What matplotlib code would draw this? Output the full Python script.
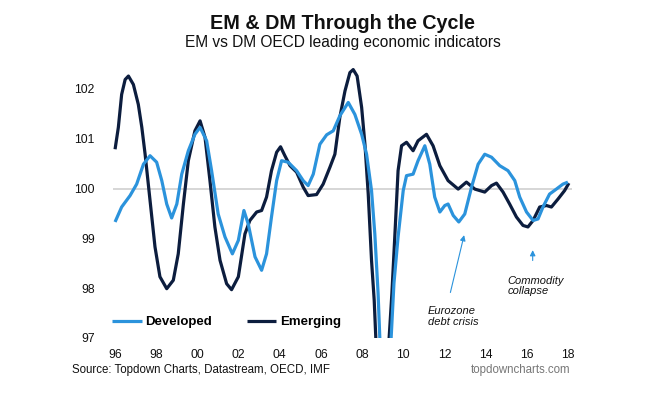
import matplotlib
matplotlib.use("Agg")
import matplotlib.pyplot as plt

# Developed (DM) OECD leading indicator
dm_years = [1996.0, 1996.32, 1996.73, 1997.05, 1997.38, 1997.7, 1998.02, 1998.27, 1998.51, 1998.75,
            1999.0, 1999.24, 1999.56, 1999.88, 2000.13, 2000.45, 2000.69, 2001.01, 2001.34, 2001.7,
            2001.99, 2002.26, 2002.47, 2002.8, 2003.12, 2003.36, 2003.6, 2003.85, 2004.09, 2004.41,
            2004.82, 2005.14, 2005.38, 2005.63, 2005.95, 2006.28, 2006.6, 2006.92, 2007.33, 2007.65,
            2007.98, 2008.22, 2008.46, 2008.62, 2008.78, 2008.9, 2009.1, 2009.35, 2009.55, 2009.75,
            2010.0, 2010.16, 2010.48, 2010.72, 2011.05, 2011.29, 2011.53, 2011.78, 2012.02, 2012.18,
            2012.43, 2012.7, 2012.99, 2013.32, 2013.64, 2013.96, 2014.29, 2014.69, 2015.09, 2015.42,
            2015.66, 2015.99, 2016.31, 2016.55, 2016.79, 2017.11, 2017.44, 2017.76, 2018.0]
dm_values = [99.33, 99.63, 99.86, 100.09, 100.49, 100.66, 100.53, 100.16, 99.69, 99.41,
             99.69, 100.29, 100.76, 101.09, 101.23, 100.96, 100.36, 99.49, 99.03, 98.69,
             98.96, 99.56, 99.29, 98.63, 98.36, 98.69, 99.43, 100.16, 100.56, 100.53,
             100.36, 100.16, 100.06, 100.29, 100.89, 101.08, 101.16, 101.46, 101.73, 101.49,
             101.09, 100.69, 99.96, 99.09, 97.89, 96.6, 95.6, 96.5, 98.1, 99.03,
             99.96, 100.26, 100.29, 100.56, 100.86, 100.49, 99.83, 99.53, 99.66, 99.69,
             99.46, 99.33, 99.49, 100.03, 100.49, 100.69, 100.63, 100.46, 100.36, 100.16,
             99.83, 99.53, 99.36, 99.39, 99.63, 99.89, 99.99, 100.09, 100.13]

# Emerging (EM) OECD leading indicator
em_years = [1996.0, 1996.16, 1996.32, 1996.49, 1996.65, 1996.89, 1997.13, 1997.3, 1997.46, 1997.7,
            1997.94, 1998.18, 1998.51, 1998.83, 1999.07, 1999.32, 1999.56, 1999.88, 2000.13, 2000.37,
            2000.61, 2000.85, 2001.1, 2001.42, 2001.66, 2001.99, 2002.31, 2002.55, 2002.88, 2003.12,
            2003.36, 2003.6, 2003.85, 2004.04, 2004.25, 2004.5, 2004.82, 2005.14, 2005.38, 2005.79,
            2006.11, 2006.44, 2006.68, 2006.92, 2007.17, 2007.41, 2007.57, 2007.76, 2007.98, 2008.14,
            2008.3, 2008.46, 2008.59, 2008.72, 2008.9, 2009.08, 2009.3, 2009.45, 2009.59, 2009.75,
            2009.92, 2010.16, 2010.48, 2010.72, 2011.13, 2011.45, 2011.78, 2012.18, 2012.67, 2013.07,
            2013.48, 2013.96, 2014.29, 2014.53, 2014.85, 2015.17, 2015.5, 2015.82, 2016.06, 2016.31,
            2016.63, 2016.96, 2017.2, 2017.52, 2017.84, 2018.05]
em_values = [100.79, 101.23, 101.89, 102.19, 102.26, 102.09, 101.69, 101.23, 100.69, 99.76,
             98.83, 98.23, 97.99, 98.16, 98.69, 99.69, 100.56, 101.16, 101.36, 101.03,
             100.16, 99.23, 98.56, 98.09, 97.97, 98.23, 99.09, 99.36, 99.53, 99.56,
             99.83, 100.36, 100.73, 100.84, 100.66, 100.46, 100.33, 100.03, 99.86, 99.88,
             100.09, 100.43, 100.69, 101.43, 101.96, 102.33, 102.39, 102.26, 101.63, 100.89,
             99.89, 98.56, 97.76, 96.5, 95.3, 95.8, 96.9, 97.9, 99.03, 100.36,
             100.86, 100.93, 100.76, 100.96, 101.09, 100.86, 100.46, 100.16, 99.99, 100.13,
             99.99, 99.93, 100.06, 100.11, 99.93, 99.69, 99.43, 99.26, 99.23, 99.36,
             99.63, 99.66, 99.63, 99.79, 99.96, 100.11]

ytick_vals = [97, 98, 99, 100, 101, 102]
xtick_vals = [1996, 1998, 2000, 2002, 2004, 2006, 2008, 2010, 2012, 2014, 2016, 2018]
xtick_labels = ["96", "98", "00", "02", "04", "06", "08", "10", "12", "14", "16", "18"]

DM_COLOR = "#2b93dc"
EM_COLOR = "#0c1d3e"

plt.rcParams["font.family"] = ["Liberation Sans", "DejaVu Sans"]

W, H = 662, 395
fig = plt.figure(figsize=(W / 100, H / 100), dpi=100)
ax = fig.add_axes([113 / W, (H - 338) / H, 459 / W, (338 - 61.6) / H])

ax.axhline(100, color="#cfcfcf", lw=1.2, zorder=1)
ax.plot(dm_years, dm_values, color=DM_COLOR, lw=2.3, label="Developed", zorder=3,
        solid_joinstyle="round", solid_capstyle="butt")
ax.plot(em_years, em_values, color=EM_COLOR, lw=2.3, label="Emerging", zorder=2,
        solid_joinstyle="round", solid_capstyle="butt")

ax.set_xlim(1995.9, 2018.2)
ax.set_ylim(97, 102.55)
ax.set_yticks(ytick_vals)
ax.set_yticklabels([str(v) for v in ytick_vals])
ax.set_xticks(xtick_vals)
ax.set_xticklabels(xtick_labels)
for s in ax.spines.values():
    s.set_visible(False)
ax.tick_params(axis="both", length=0, labelsize=8.7, colors="#111111")
ax.tick_params(axis="y", pad=13)
ax.tick_params(axis="x", pad=8)

leg = ax.legend(loc="lower left", bbox_to_anchor=(-0.027, -0.008), ncol=2, frameon=False,
                handlelength=2.2, handletextpad=0.3, columnspacing=2.65,
                prop={"weight": "bold", "size": 9.5})

# annotations
ax.annotate("", xy=(2012.99, 99.12), xytext=(2012.26, 97.86),
            arrowprops=dict(arrowstyle="-|>", color=DM_COLOR, lw=0.8, mutation_scale=8))
ax.text(2011.19, 97.43, "Eurozone\ndebt crisis", fontsize=8, style="italic",
        ha="left", va="center", linespacing=1.05, color="#111111")
ax.annotate("", xy=(2016.29, 98.82), xytext=(2016.29, 98.5),
            arrowprops=dict(arrowstyle="-|>", color=DM_COLOR, lw=0.8, mutation_scale=8))
ax.text(2015.08, 98.04, "Commodity\ncollapse", fontsize=8, style="italic",
        ha="left", va="center", linespacing=1.05, color="#111111")

cx = (113 + 572) / 2 / W
fig.text(cx, 1 - 29.3 / H, "EM & DM Through the Cycle", ha="center", va="baseline",
         fontsize=14.2, weight="bold", color="#111111")
fig.text(cx, 1 - 47 / H, "EM vs DM OECD leading economic indicators", ha="center",
         va="baseline", fontsize=11.2, color="#111111")

fig.text(72 / W, 1 - 373.3 / H, "Source: Topdown Charts, Datastream, OECD, IMF",
         ha="left", va="baseline", fontsize=8.3, color="#111111")
fig.text(570 / W, 1 - 373.3 / H, "topdowncharts.com", ha="right", va="baseline",
         fontsize=8.3, color="#777777")

fig.savefig("out.png", dpi=100)
